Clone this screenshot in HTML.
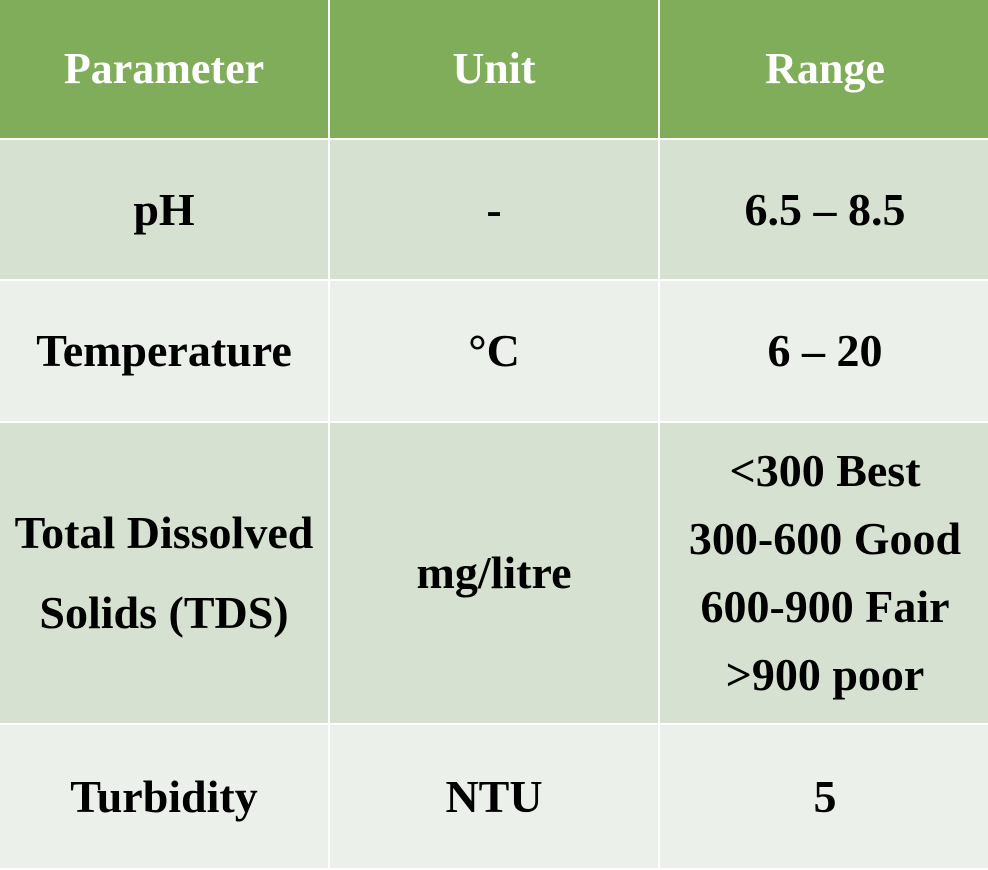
<!DOCTYPE html>
<html><head><meta charset="utf-8"><style>
html,body{margin:0;padding:0;background:#fff;}
body{width:988px;height:866px;overflow:hidden;}
table{border-collapse:collapse;position:absolute;left:-2px;top:-2px;width:992px;height:870px;table-layout:fixed;}
td,th{border:2px solid #fff;text-align:center;vertical-align:middle;font-family:"Liberation Serif",serif;font-weight:bold;font-size:46px;color:#000;padding:0;line-height:68px;}
th{background:#7fad5a;color:#fff;font-size:44px;}
tr.a td{background:#d6e1d1;}
tr.b td{background:#ebf0ea;}
td.tds{line-height:80px;}
</style></head><body>
<table>
<colgroup><col style="width:330px"><col style="width:330px"><col style="width:332px"></colgroup>
<tr style="height:140px"><th>Parameter</th><th>Unit</th><th>Range</th></tr>
<tr class="a" style="height:141px"><td>pH</td><td>-</td><td>6.5 – 8.5</td></tr>
<tr class="b" style="height:142px"><td>Temperature</td><td>°C</td><td>6 – 20</td></tr>
<tr class="a" style="height:302px"><td class="tds">Total Dissolved<br>Solids (TDS)</td><td>mg/litre</td><td>&lt;300 Best<br>300-600 Good<br>600-900 Fair<br>&gt;900 poor</td></tr>
<tr class="b" style="height:145px"><td>Turbidity</td><td>NTU</td><td>5</td></tr>
</table>
</body></html>
